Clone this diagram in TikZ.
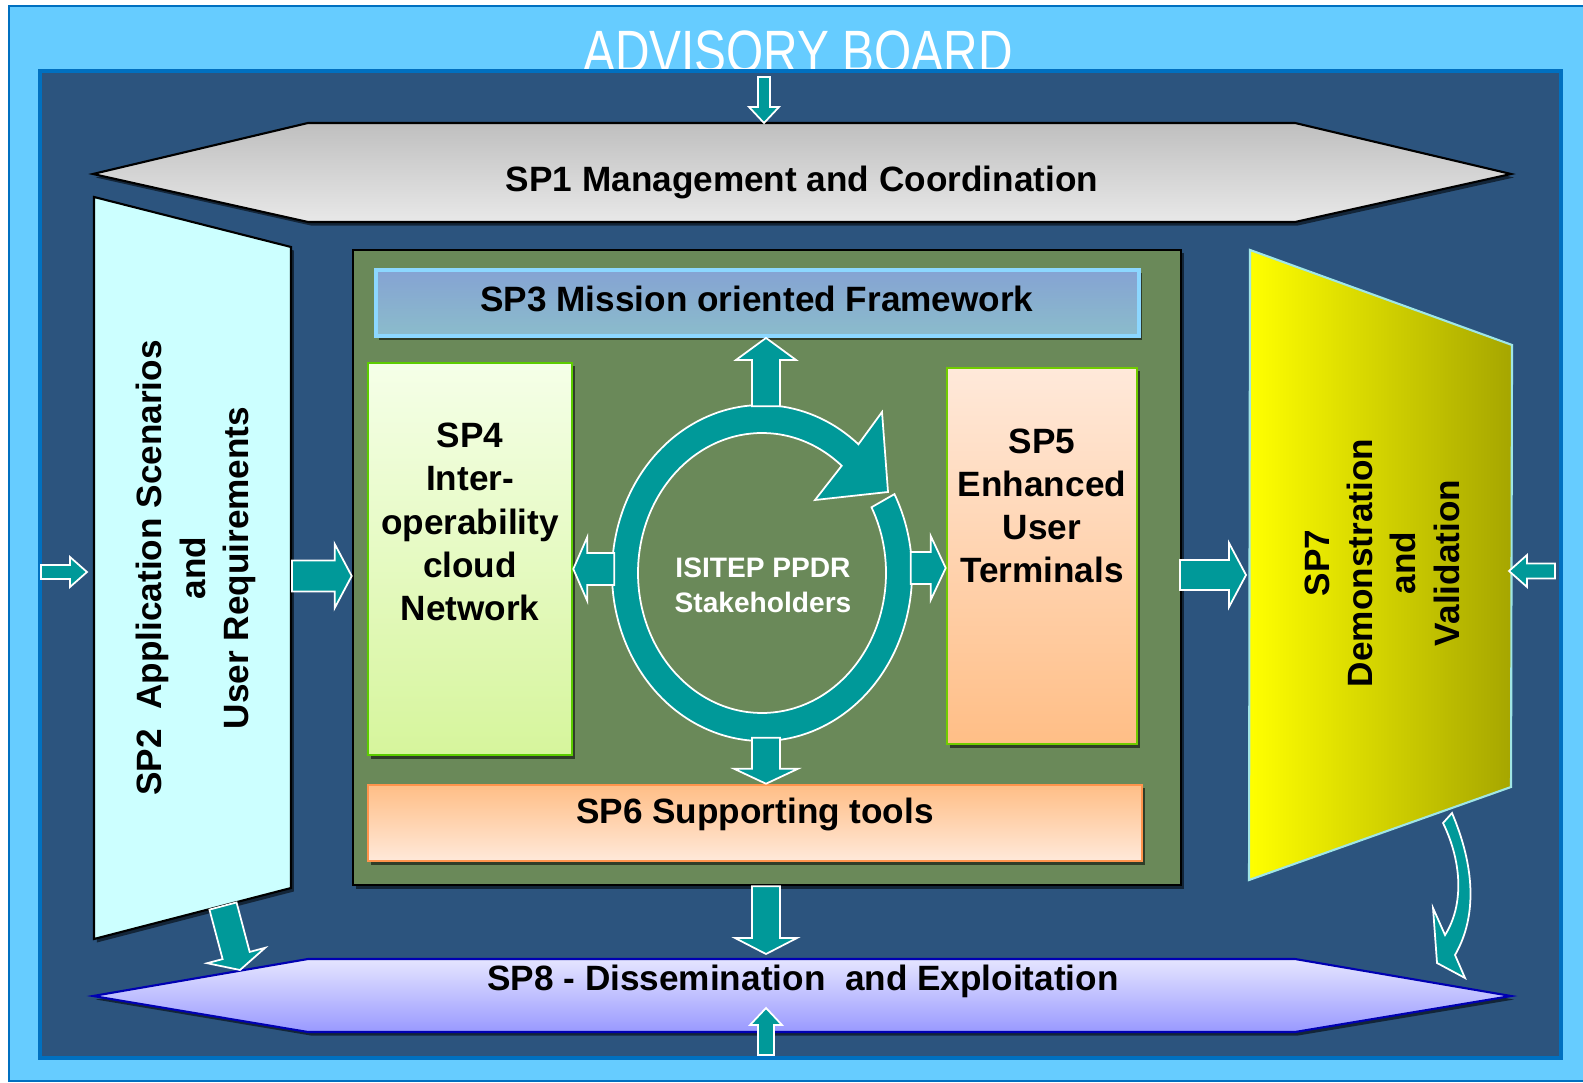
\documentclass[tikz,border=0pt]{standalone}
\usepackage{fontspec}
\setmainfont{Liberation Sans}
\usetikzlibrary{calc,shadows,shapes.geometric}

\definecolor{skyb}{HTML}{66CCFF}
\definecolor{frameb}{HTML}{0070C0}
\definecolor{navyb}{HTML}{2C547E}
\definecolor{moss}{HTML}{6A8959}
\definecolor{tealc}{HTML}{009999}
\definecolor{icec}{HTML}{CCFFFF}
\definecolor{paleline}{HTML}{A0E6E6}

\tikzset{
  box/.style={draw, line width=.6pt,
    drop shadow={shadow xshift=.8pt, shadow yshift=-1pt, fill=black, opacity=.55}},
  lbl/.style={font=\bfseries\fontsize{10}{12.3}\selectfont, align=center, inner sep=0pt},
  blockarrow/.style={fill=tealc, draw=white, line width=.5pt},
}

% tail, tip, half shaft, half head, head length
\newcommand{\fatarrow}[5]{%
  \coordinate (fa-b) at ($(#2)!#5!(#1)$);
  \draw[blockarrow] ($(#1)!#3!90:(#2)$) -- ($(fa-b)!#3!90:(#2)$) -- ($(fa-b)!#4!90:(#2)$) -- (#2)
    -- ($(fa-b)!#4!-90:(#2)$) -- ($(fa-b)!#3!-90:(#2)$) -- ($(#1)!#3!-90:(#2)$) -- cycle;}

\begin{document}
\begin{tikzpicture}[x=0.01cm, y=-0.01cm]
  \useasboundingbox (0,0) rectangle (1583,1083);

  % frames
  \draw[fill=skyb, draw=frameb, line width=.8pt] (9,6) rectangle (1595,1081);
  \node[text=white, font=\fontsize{17}{17}\selectfont, anchor=base, xscale=.8, inner sep=0pt]
    (board) at (798,73) {ADVISORY BOARD};
  \draw[fill=navyb, draw=frameb, line width=.9pt] (40,71) rectangle (1561,1058);

  % outer work packages
  \draw[box, top color=black!25, bottom color=black!9]
    (93,174) -- (308,123) -- (1295,123) -- (1511,174) -- (1295,222) -- (308,222) -- cycle;
  \draw[box, fill=icec]
    (94,197) -- (291,247) -- (291,888) -- (94,939) -- cycle;
  \draw[box, draw=blue!70!black, top color=blue!10, bottom color=blue!40]
    (93,996) -- (308,959) -- (1295,959) -- (1511,996) -- (1295,1032) -- (308,1032) -- cycle;
  \draw[draw=paleline, line width=.6pt, left color=yellow, right color=yellow!65!black]
    (1250,250) -- (1512,345) -- (1511,787) -- (1249,880) -- cycle;

  % core
  \node[box, fill=moss, minimum width=8.28cm, minimum height=6.35cm, inner sep=0pt] (core) at (767,567.5) {};
  \node[box, draw=blue!35!cyan!45, line width=1.1pt, top color={rgb,255:red,133;green,163;blue,211},
    bottom color={rgb,255:red,139;green,188;blue,203}, minimum width=7.63cm, minimum height=.66cm] (sp3) at (757.5,303) {};
  \node[box, draw=green!55!yellow!80!black, line width=.7pt, top color={rgb,255:red,245;green,255;blue,232},
    bottom color={rgb,255:red,214;green,245;blue,156}, minimum width=2.04cm, minimum height=3.92cm] (sp4) at (470,559) {};
  \node[box, draw=green!45!yellow!80!black, line width=.7pt, top color={rgb,255:red,255;green,233;blue,218},
    bottom color={rgb,255:red,255;green,190;blue,134}, minimum width=1.90cm, minimum height=3.76cm] (sp5) at (1042,556) {};
  \node[box, draw=orange!80!red!70, line width=.7pt, top color={rgb,255:red,255;green,190;blue,134},
    bottom color={rgb,255:red,255;green,233;blue,218}, minimum width=7.74cm, minimum height=.76cm] (sp6) at (755,823) {};

  % stakeholder cycle
  \node[ellipse, minimum width=3cm, minimum height=3.36cm, inner sep=0pt] (ring) at (762,573) {};
  \draw[blockarrow] ($(ring.center)+(-28:150 and 168)$) arc[start angle=-28, end angle=310, x radius=150, y radius=168]
    -- (882,412) -- (888,492) -- (815,500) -- ($(ring.center)+(310:124 and 140)$)
    arc[start angle=310, end angle=-28, x radius=124, y radius=140] -- cycle;

  \coordinate (adv) at (764,77);
  \coordinate (sp1top) at (764,123);
  \coordinate (lin) at (41,572);
  \coordinate (lin2) at (87,572);
  \coordinate (rin) at (1555,571);
  \coordinate (rin2) at (1509,571);
  \coordinate (botin) at (766,1055);
  \coordinate (sp8bot) at (766,1008);
  \coordinate (sp8top) at (766,954);
  \coordinate (sp2out) at (223,906);
  \coordinate (sp8a) at (240,970);
  \coordinate (sp2r) at (292,576);
  \coordinate (ce) at (1180,575);
  \coordinate (sp7l) at (1246,575);
  \coordinate (rw) at ($(ring.west)+(3,-4)$);
  \coordinate (re) at ($(ring.east)+(-2,-5)$);
  \coordinate (rn) at ($(ring.north)+(4,2)$);
  \coordinate (rs) at ($(ring.south)+(4,-4)$);
  \coordinate (cs) at (core.south -| rs);

  \fatarrow{adv}{sp1top}{.06cm}{.15cm}{.16cm}
  \fatarrow{lin}{lin2}{.07cm}{.15cm}{.17cm}
  \fatarrow{rin}{rin2}{.075cm}{.16cm}{.18cm}
  \fatarrow{botin}{sp8bot}{.08cm}{.16cm}{.17cm}
  \fatarrow{sp2r}{core.west |- sp2r}{.155cm}{.32cm}{.17cm}
  \fatarrow{ce}{sp7l}{.15cm}{.32cm}{.17cm}
  \fatarrow{cs}{sp8top}{.14cm}{.31cm}{.16cm}
  \fatarrow{sp2out}{sp8a}{.14cm}{.30cm}{.15cm}
  \fatarrow{rw}{sp4.east |- rw}{.16cm}{.32cm}{.14cm}
  \fatarrow{re}{sp5.west |- re}{.16cm}{.32cm}{.15cm}
  \fatarrow{rn}{sp3.south -| rn}{.14cm}{.30cm}{.22cm}
  \fatarrow{rs}{sp6.north -| rs}{.14cm}{.32cm}{.15cm}

  % SP7 to SP8
  \draw[blockarrow] (1443,823) -- (1452,813) .. controls (1474,865) and (1478,915) .. (1455,955)
    -- (1465,978) -- (1437,963) -- (1433,908) -- (1445,935)
    .. controls (1464,905) and (1462,862) .. (1443,823) -- cycle;

  % labels
  \node[lbl] (t1) at (802,182) {SP1 Management and Coordination};
  \node[lbl, rotate=90] (t2) at (196,568) {SP2~ Application Scenarios\\and\\User Requirements};
  \node[lbl] (t3) at (757,299) {SP3 Mission oriented Framework};
  \node[lbl] (t4) at (470,522) {SP4\\Inter-\\operability\\cloud\\Network};
  \node[lbl] (t5) at (1042,506) {SP5\\Enhanced\\User\\Terminals};
  \node[lbl] (t6) at (755,814) {SP6 Supporting tools};
  \node[lbl, rotate=90] (t7) at (1382,563) {SP7\\Demonstration\\and\\Validation};
  \node[lbl] (t8) at (803,981) {SP8 - Dissemination~ and Exploitation};
  \node[lbl, text=white, font=\bfseries\fontsize{8}{10}\selectfont] (hub) at (763,585) {ISITEP PPDR\\Stakeholders};
\end{tikzpicture}
\end{document}
